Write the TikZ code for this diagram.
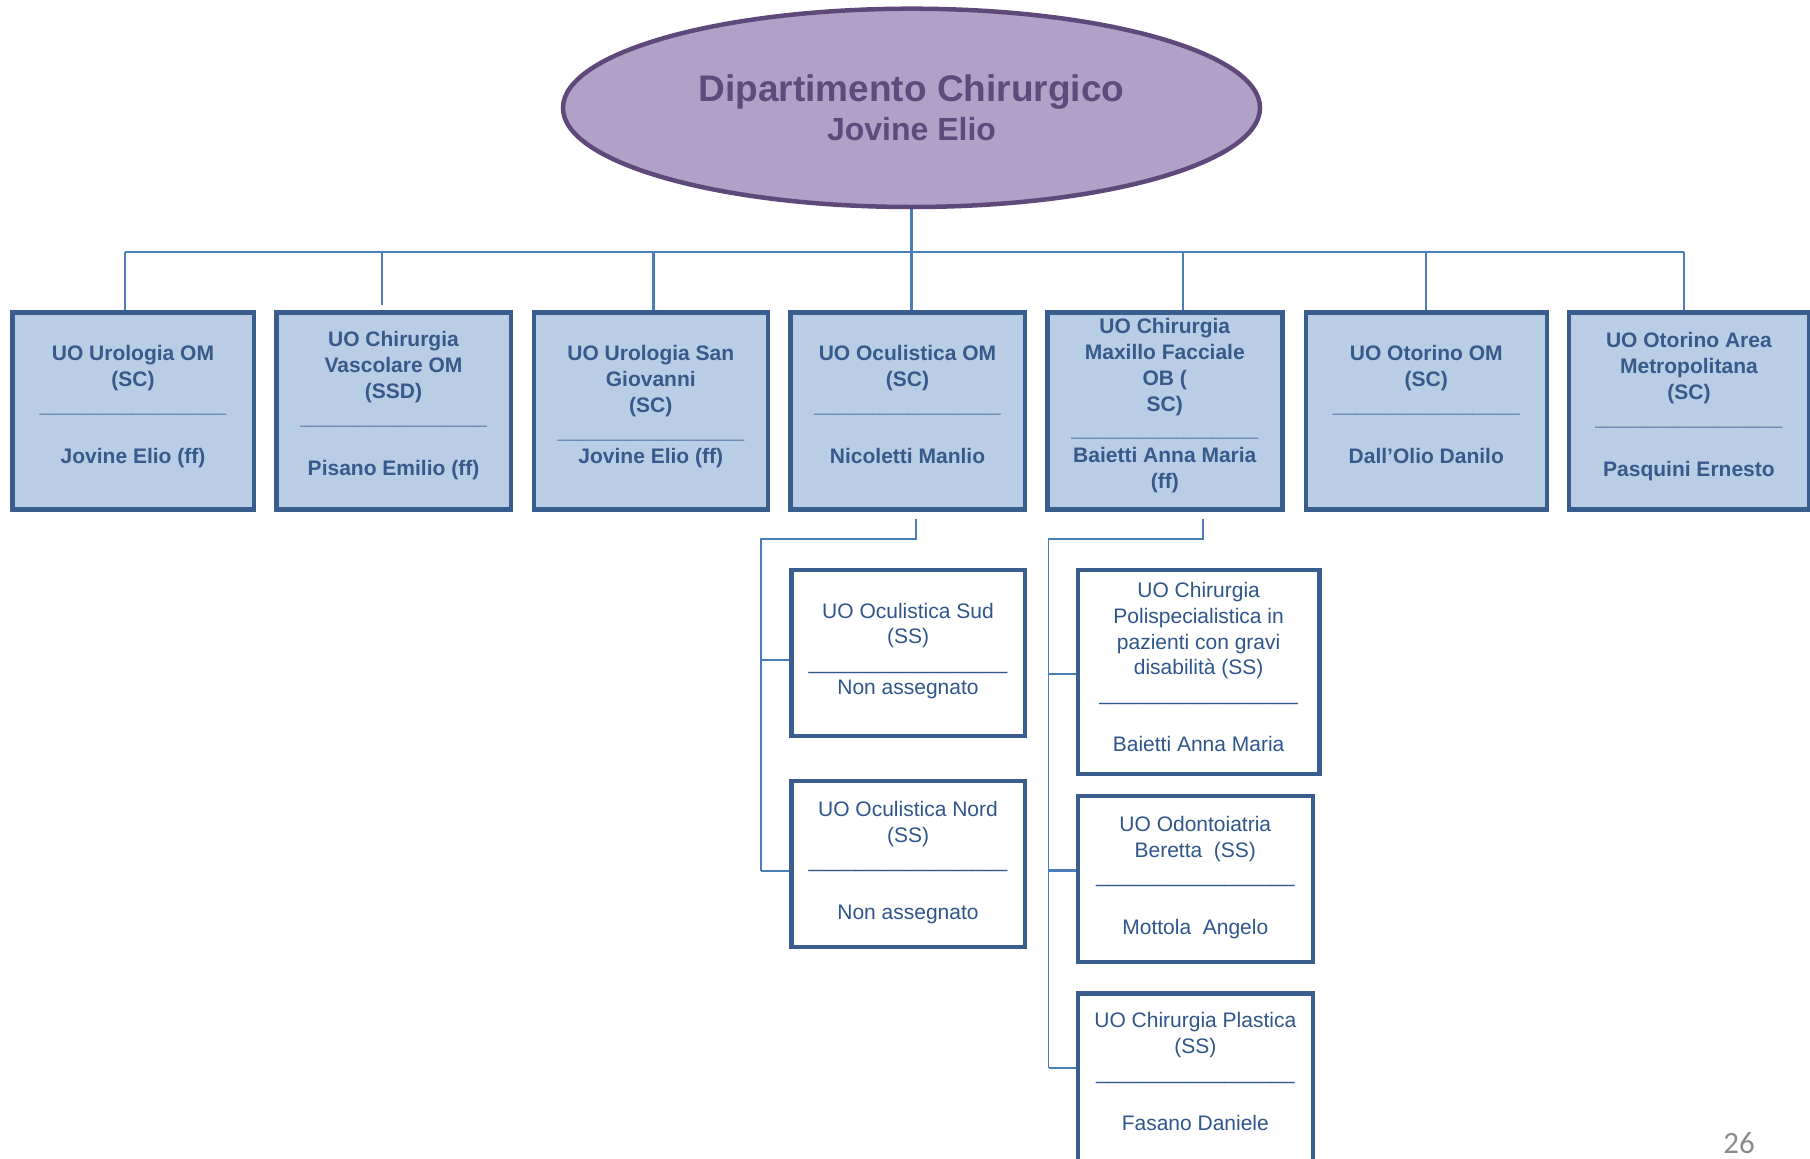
\documentclass[tikz,border=0pt]{standalone}
\usepackage{fontspec}
\setmainfont{Liberation Sans}
\newfontfamily\pagefont{Carlito}
\usetikzlibrary{shapes.geometric,calc,backgrounds}
\definecolor{boxfill}{HTML}{B9CDE5}
\definecolor{boxline}{HTML}{395D8C}
\definecolor{boxtext}{HTML}{375A8A}
\definecolor{subtext}{HTML}{30558A}
\definecolor{conn}{HTML}{4A7EBB}
\definecolor{ellfill}{HTML}{B2A1C7}
\definecolor{ellline}{HTML}{5F497A}
\definecolor{elltext}{HTML}{604A7B}
\definecolor{pagegray}{HTML}{8C8C8C}
\newcommand\padlast[1]{\rule[-#1pt]{0pt}{1pt}}
\newcommand\usixteen{\_\_\_\_\_\_\_\_\_\_\_\_\_\_\_\_}
\newcommand\useventeen{\usixteen\_}
\begin{document}
\begin{tikzpicture}[x=1pt,y=-1pt,
  topbox/.style={rectangle, draw=boxline, line width=4.5pt, fill=boxfill, inner sep=0pt,
    align=center, text=boxtext, font=\fontsize{21}{25.7}\selectfont\bfseries, minimum height=197.2pt},
  subbox/.style={rectangle, draw=boxline, line width=4.5pt, fill=white, inner sep=0pt,
    align=center, text=subtext, font=\fontsize{21}{25.6}\selectfont},
  link/.style={draw=conn, line width=2.4pt},
  sublink/.style={draw=conn, line width=1.6pt},
  stub/.style={draw=conn, line width=2.7pt}]
\useasboundingbox (0,0) rectangle (1810,1159);
\clip (0,0) rectangle (1810,1159);

% department ellipse
\node[ellipse, draw=ellline, line width=4.5pt, fill=ellfill, minimum width=697pt, minimum height=198.3pt,
  inner sep=0pt, align=center, text=elltext, font=\fontsize{32}{39.7}\selectfont\bfseries]
  (dept) at (911.5,107.85) {{\fontsize{37}{39.7}\selectfont Dipartimento Chirurgico}\\Jovine Elio};

% top row
\node[topbox, minimum width=241.5pt] (b1) at (133,410.85)
  {UO Urologia OM\\(SC)\\\usixteen\\[25.7pt]Jovine Elio (ff)\padlast{12.2}};
\node[topbox, minimum width=234.5pt] (b2) at (393.5,410.85)
  {UO Chirurgia\\Vascolare OM\\(SSD)\\\usixteen\\[25.7pt]Pisano Emilio (ff)\padlast{14.5}};
\node[topbox, minimum width=233.9pt] (b3) at (650.8,410.85)
  {UO Urologia San\\Giovanni\\(SC)\\\usixteen\\Jovine Elio (ff)\padlast{12.2}};
\node[topbox, minimum width=234.5pt] (b4) at (907.5,410.85)
  {UO Oculistica OM\\(SC)\\\usixteen\\[25.7pt]Nicoletti Manlio\padlast{12.2}};
\node[topbox, minimum width=235.1pt] (b5) at (1164.8,410.85)
  {UO Chirurgia\\Maxillo Facciale\\OB (\\SC)\\\usixteen\\Baietti Anna Maria\\(ff)\padlast{14.8}};
\node[topbox, minimum width=240.9pt] (b6) at (1426.3,410.85)
  {UO Otorino OM\\(SC)\\\usixteen\\[25.7pt]Dall’Olio Danilo\padlast{12.2}};
\node[topbox, minimum width=239.8pt] (b7) at (1688.9,410.85)
  {UO Otorino Area\\Metropolitana\\(SC)\\\usixteen\\[25.7pt]Pasquini Ernesto\padlast{12.5}};

% sub units
\node[subbox, minimum width=233.5pt, minimum height=165.8pt] (sud) at (908,652.85)
  {UO Oculistica Sud\\(SS)\\\useventeen\\Non assegnato\padlast{7.9}};
\node[subbox, minimum width=233.5pt, minimum height=165.8pt] (nord) at (908,863.85)
  {UO Oculistica Nord\\(SS)\\\useventeen\\[25.6pt]Non assegnato\padlast{7.2}};
\node[subbox, minimum width=241.6pt, minimum height=203.8pt] (poli) at (1198.65,671.85)
  {UO Chirurgia\\Polispecialistica in\\pazienti con gravi\\disabilità (SS)\\\useventeen\\[25.6pt]Baietti Anna Maria\padlast{9.4}};
\node[subbox, minimum width=234.9pt, minimum height=165.8pt] (odon) at (1195.3,878.85)
  {UO Odontoiatria\\Beretta\ \ (SS)\\\useventeen\\[25.6pt]Mottola\ \ Angelo\padlast{7.2}};
\node[subbox, minimum width=234.9pt, minimum height=170.5pt] (plas) at (1195.3,1078.5)
  {UO Chirurgia Plastica\\(SS)\\\useventeen\\[25.6pt]Fasano Daniele\padlast{13.9}};

% page number
\node[font=\pagefont\fontsize{31}{31}\selectfont, text=pagegray, anchor=base, inner sep=0pt] (page) at (1739,1153.5) {26};

\begin{scope}[on background layer]
  % main bus
  \coordinate (busW) at (125,252);
  \coordinate (busE) at (1684,252);
  \coordinate (d2) at (382,252);
  \coordinate (d3) at (653.6,252);
  \coordinate (d5) at (1183,252);
  \coordinate (d6) at (1426,252);
  \draw[link] (dept.south) -- (dept.south |- b4.north);
  \draw[link] (busW) -- (busE);
  \draw[link] (busW) -- (busW |- b1.north);
  \draw[link] (d2) -- ($(d2 |- b2.north)+(0,-5)$);
  \draw[link] (d3) -- (d3 |- b3.north);
  \draw[link] (d5) -- (d5 |- b5.north);
  \draw[link] (d6) -- (d6 |- b6.north);
  \draw[link] (busE) -- (busE |- b7.north);
  % ophthalmology branch
  \coordinate (j4) at (916,539);
  \coordinate (v4) at (760.7,539);
  \coordinate (s1) at ($(sud.west)+(0,7)$);
  \coordinate (s2) at ($(nord.west)+(0,7)$);
  \draw[sublink] ($(b4.south -| j4)+(0,7)$) -- (j4) -- (v4) -- (v4 |- s2);
  \draw[stub] (v4 |- s1) -- (s1);
  \draw[stub] (v4 |- s2) -- (s2);
  % maxillo-facial branch
  \coordinate (j5) at (1203,539);
  \coordinate (v5) at (1048.5,539);
  \coordinate (s3) at ($(poli.west)+(0,2.2)$);
  \coordinate (s4) at ($(odon.west)+(0,-8.2)$);
  \coordinate (s5) at ($(plas.west)+(0,-10.5)$);
  \draw[sublink] ($(b5.south -| j5)+(0,7)$) -- (j5) -- (v5) -- (v5 |- s5);
  \draw[stub] (v5 |- s3) -- (s3);
  \draw[stub] (v5 |- s4) -- (s4);
  \draw[stub] (v5 |- s5) -- (s5);
\end{scope}
\end{tikzpicture}
\end{document}
